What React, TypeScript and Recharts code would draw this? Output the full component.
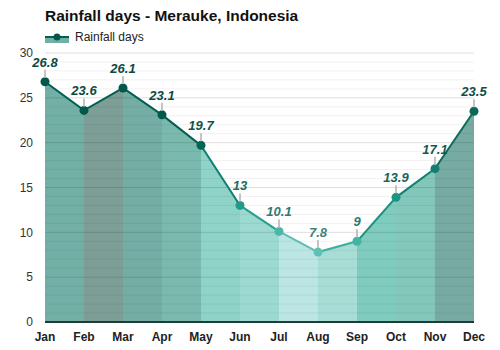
import { Area, ComposedChart, LabelList, Line, ReferenceLine, XAxis, YAxis } from "recharts"

const months = ["Jan", "Feb", "Mar", "Apr", "May", "Jun", "Jul", "Aug", "Sep", "Oct", "Nov", "Dec"]
const rainfallDays = [26.8, 23.6, 26.1, 23.1, 19.7, 13, 10.1, 7.8, 9, 13.9, 17.1, 23.5]
const yTicks = [0, 5, 10, 15, 20, 25, 30]
const gridSteps = Array.from({ length: 30 }, (_, i) => i + 1)

// colour of each month band (band i runs from month i to month i+1)
const bandColors = ["#72b0a6", "#7c9e97", "#73ada4", "#79b9ae", "#8fd2c8", "#9cdad1", "#bce6e3", "#a8ddd6", "#7fcbbd", "#82c7ba", "#77aba2"]
const lineColors = ["#005f4f", "#005f4f", "#005f4f", "#005f4f", "#108070", "#26a08e", "#5cc0b2", "#3db1a1", "#18947f", "#138171", "#0b6c5c"]
const dotColors = ["#00574a", "#00574a", "#00574a", "#00574a", "#006552", "#22998a", "#4cb6a8", "#5ec1b4", "#43b3a4", "#1b9482", "#137d6e", "#0b6859"]
const labelColors = ["#0b4a40", "#0b4a40", "#0b4a40", "#0b4a40", "#0e5548", "#206d63", "#2d7a70", "#3b857b", "#2d7a70", "#1b6359", "#145a50", "#0e5047"]

const data = months.map((m, i) => ({ month: m, days: rainfallDays[i] }))
const font = "'Liberation Sans', Arial, sans-serif"

function bandStops() {
  const n = bandColors.length
  return bandColors.flatMap((c, i) => [
    <stop key={`a${i}`} offset={i / n} stopColor={c} />,
    <stop key={`b${i}`} offset={(i + 1) / n} stopColor={c} />,
  ])
}

function lineStops() {
  const n = lineColors.length
  return lineColors.flatMap((c, i) => [
    <stop key={`a${i}`} offset={i / n} stopColor={c} />,
    <stop key={`b${i}`} offset={(i + 1) / n} stopColor={c} />,
  ])
}

const MonthDot = (props: any) => {
  const { cx, cy, index } = props
  return <circle cx={cx} cy={cy} r={4.5} fill={dotColors[index]} stroke="none" />
}

const ValueLabel = (props: any) => {
  const { x, y, value, index } = props
  return (
    <g>
      <line x1={x} x2={x} y1={y - 12} y2={y - 4} stroke="#c4c4c4" strokeWidth={2} />
      <text
        x={x}
        y={y - 15}
        textAnchor="middle"
        fontFamily={font}
        fontSize={13}
        fontStyle="italic"
        fontWeight="bold"
        fill={labelColors[index]}
      >
        {value}
      </text>
    </g>
  )
}

export default function App() {
  return (
    <div style={{ position: "fixed", left: 0, top: 0, width: 500, height: 350, background: "#fff", fontFamily: font }}>
      <div style={{ position: "absolute", left: 45, top: 7, fontSize: 15.5, fontWeight: "bold", color: "#111" }}>
        Rainfall days - Merauke, Indonesia
      </div>
      <div style={{ position: "absolute", left: 45, top: 30, display: "flex", alignItems: "center" }}>
        <svg width={24} height={14}>
          <rect x={0} y={7} width={24} height={6} fill="#72b0a6" />
          <line x1={0} x2={24} y1={7} y2={7} stroke="#005f4f" strokeWidth={2} />
          <circle cx={12} cy={7} r={3.5} fill="#00574a" />
        </svg>
        <span style={{ marginLeft: 6, fontSize: 12, color: "#222" }}>Rainfall days</span>
      </div>
      <ComposedChart width={500} height={350} data={data} margin={{ top: 53, right: 26, bottom: 0, left: 0 }}>
        <defs>
          <linearGradient id="bandFill" x1="0" y1="0" x2="1" y2="0">
            {bandStops()}
          </linearGradient>
          <linearGradient id="bandLine" x1="0" y1="0" x2="1" y2="0">
            {lineStops()}
          </linearGradient>
        </defs>
        <XAxis
          dataKey="month"
          scale="point"
          height={28}
          tickLine={false}
          axisLine={{ stroke: "#1f3d38", strokeWidth: 2 }}
          tick={{ fill: "#222", fontSize: 12, fontWeight: "bold", fontFamily: font }}
          tickMargin={4}
          interval={0}
        />
        <YAxis
          domain={[0, 30]}
          ticks={yTicks}
          width={45}
          tickLine={false}
          axisLine={false}
          tick={{ fill: "#333", fontSize: 12, fontFamily: font }}
          tickMargin={6}
        />
        <Area
          type="linear"
          dataKey="days"
          fill="url(#bandFill)"
          fillOpacity={1}
          stroke="none"
          isAnimationActive={false}
        />
        {gridSteps.map((v) => (
          <ReferenceLine
            key={v}
            y={v}
            stroke={v % 5 === 0 ? "rgba(0,0,0,0.13)" : "rgba(0,0,0,0.06)"}
            strokeWidth={1}
          />
        ))}
        <Line
          type="linear"
          dataKey="days"
          stroke="url(#bandLine)"
          strokeWidth={2}
          dot={<MonthDot />}
          activeDot={false}
          isAnimationActive={false}
        >
          <LabelList dataKey="days" content={<ValueLabel />} />
        </Line>
      </ComposedChart>
    </div>
  )
}
